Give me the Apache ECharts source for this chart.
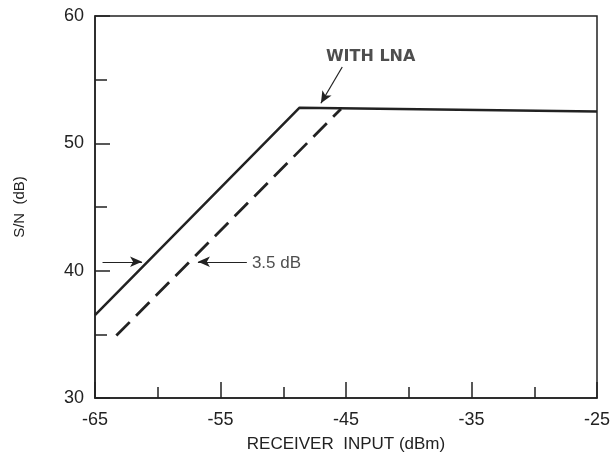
<!DOCTYPE html>
<html>
<head>
<meta charset="utf-8">
<script src="https://cdn.jsdelivr.net/npm/echarts@6/dist/echarts.min.js"></script>
<style>
	html, body { margin: 0; padding: 0; background: #fff; }
	#chart { width: 615px; height: 459px; }
</style>
</head>
<body>
<div id="chart"></div>
<script>
	// S/N vs receiver input, with and without LNA
	var withLna = [[-65, 36.5], [-48.7, 52.8], [-25, 52.5]];
	var withoutLna = [[-63.3, 34.9], [-45.4, 52.7]];
	var xTicks = [-65, -55, -45, -35, -25];
	var yTicks = [30, 40, 50, 60];
	// annotation arrows, in data units
	var lnaArrow = [[-45.3, 56.0], [-47.0, 53.15]];
	var leftArrow = [[-64.4, 40.7], [-61.25, 40.7]];
	var rightArrow = [[-52.9, 40.7], [-56.8, 40.7]];
	var notes = [
		{ text: 'WITH LNA', at: [-46.6, 56.8], size: 16, weight: 'bold', font: 'DejaVu Sans' },
		{ text: '3.5 dB', at: [-52.5, 40.6], size: 17, weight: 'normal', font: 'Liberation Sans' }
	];

	var ink = '#222';
	var chart = echarts.init(document.getElementById('chart'));

	function arrowLine(pts) {
		return [{ coord: pts[0], symbol: 'none' }, { coord: pts[1], symbol: 'arrow' }];
	}

	var option = {
		animation: false,
		grid: {
			left: 95, right: 18, top: 16, bottom: 61,
			show: true, borderColor: ink, borderWidth: 1.5
		},
		xAxis: {
			type: 'value',
			min: -65, max: -25, interval: 10,
			name: 'RECEIVER  INPUT (dBm)',
			nameLocation: 'middle',
			nameGap: 38,
			nameTextStyle: { color: ink, fontSize: 17, fontFamily: 'Liberation Sans' },
			axisLine: { lineStyle: { color: ink, width: 1.5 } },
			axisTick: { inside: true, length: 16, lineStyle: { color: ink, width: 1.5 } },
			minorTick: { show: true, splitNumber: 2, length: 11, lineStyle: { color: ink, width: 1.5 } },
			axisLabel: {
				color: ink, fontSize: 18, fontFamily: 'Liberation Sans', margin: 13,
				formatter: function(v) { return xTicks.indexOf(v) >= 0 ? String(v) : ''; }
			},
			splitLine: { show: false }
		},
		yAxis: {
			type: 'value',
			min: 30, max: 60, interval: 10,
			name: 'S/N  (dB)',
			nameLocation: 'middle',
			nameGap: 68,
			nameRotate: 90,
			nameTextStyle: { color: ink, fontSize: 15, fontFamily: 'Liberation Sans' },
			axisLine: { lineStyle: { color: ink, width: 1.5 } },
			axisTick: { inside: true, length: 15, lineStyle: { color: ink, width: 1.5 } },
			minorTick: { show: true, splitNumber: 2, length: 12, lineStyle: { color: ink, width: 1.5 } },
			axisLabel: {
				color: ink, fontSize: 18, fontFamily: 'Liberation Sans', margin: 11,
				formatter: function(v) { return yTicks.indexOf(v) >= 0 ? String(v) : ''; }
			},
			splitLine: { show: false }
		},
		series: [
			{
				name: 'with LNA',
				type: 'line',
				data: withLna,
				symbol: 'none',
				lineStyle: { color: ink, width: 2.5 },
				markLine: {
					silent: true,
					symbolSize: [8, 12],
					lineStyle: { color: ink, width: 1.2, type: 'solid' },
					label: { show: false },
					data: [arrowLine(lnaArrow), arrowLine(leftArrow), arrowLine(rightArrow)]
				}
			},
			{
				name: 'without LNA',
				type: 'line',
				data: withoutLna,
				symbol: 'none',
				lineStyle: { color: ink, width: 2.8, type: [19, 9] }
			},
			{
				name: 'notes',
				type: 'scatter',
				symbolSize: 0,
				data: notes.map(function(n) {
					return {
						value: n.at,
						name: n.text,
						label: { fontSize: n.size, fontWeight: n.weight, fontFamily: n.font }
					};
				}),
				label: {
					show: true,
					position: 'right',
					distance: 0,
					formatter: '{b}',
					color: ink
				}
			}
		]
	};
	chart.setOption(option);
</script>
</body>
</html>
